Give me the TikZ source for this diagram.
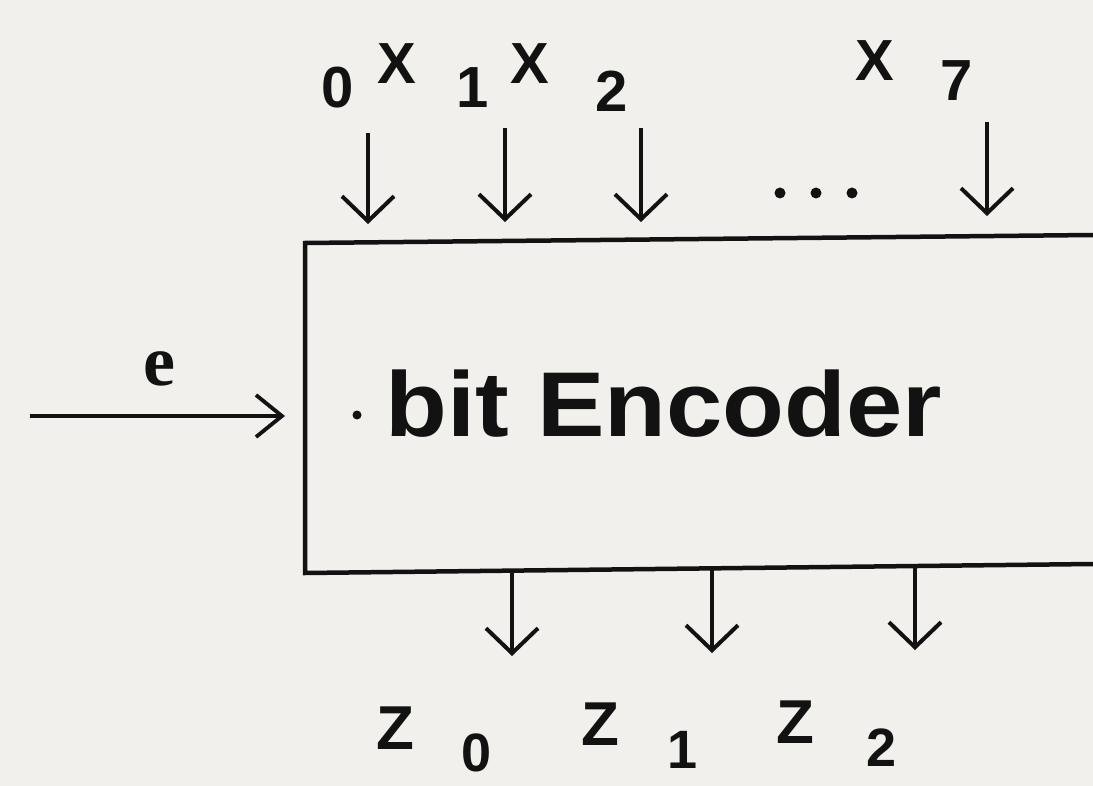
\documentclass[tikz,border=0pt]{standalone}
\usepackage{fontspec}
\setmainfont{Liberation Sans}
\newfontfamily\serifbold{Liberation Serif}
\usetikzlibrary{arrows.meta}
\definecolor{paper}{RGB}{241,240,237}
\definecolor{ink}{RGB}{18,18,18}
\begin{document}
\begin{tikzpicture}[x=1pt,y=-1pt,
  sig/.style={draw=ink, line width=4.2pt, -{Straight Barb[length=25pt,width=52pt,line width=4pt]}},
  topnum/.style={font=\fontsize{58}{60}\selectfont\bfseries, text=ink, inner sep=0pt},
  botz/.style={font=\fontsize{62}{64}\selectfont\bfseries, text=ink, inner sep=0pt},
  botnum/.style={font=\fontsize{54}{56}\selectfont\bfseries, text=ink, inner sep=0pt},
  dotmark/.style={fill=ink, circle, inner sep=0pt, minimum size=11pt}]
\fill[paper] (0,0) rectangle (1093,786);
\useasboundingbox (0,0) rectangle (1093,786);
% box (right side runs off the picture)
\coordinate (bTR) at (1093,235);
\coordinate (bTL) at (305,243);
\coordinate (bBL) at (305,573);
\coordinate (bBR) at (1093,564);
\draw[ink, line width=4.5pt] (bTR) -- (bTL) -- (bBL) -- (bBR);
% title
\node[anchor=base, text=ink, inner sep=0pt, font=\fontsize{92}{96}\selectfont\bfseries] (title) at (664,436) {\scalebox{1.1}[1]{bit Encoder}};
\node[dotmark, minimum size=9pt] (spot) at (357,415) {};
% input e
\coordinate (eS) at (30,416);
\coordinate (eT) at (285,416);
\draw[sig, -{Straight Barb[length=26pt,width=42pt,line width=3.8pt]}, line width=3.8pt] (eS) -- (eT);
\node[anchor=base, text=ink, inner sep=0pt, font=\serifbold\fontsize{72}{74}\selectfont\bfseries] (elab) at (159,385) {e};
% top inputs
\coordinate (t0s) at (368,133); \coordinate (t0e) at (368,224);
\coordinate (t1s) at (505,128); \coordinate (t1e) at (505,222);
\coordinate (t2s) at (641,128); \coordinate (t2e) at (641,222);
\coordinate (t7s) at (987,122); \coordinate (t7e) at (987,216);
\draw[sig] (t0s) -- (t0e);
\draw[sig] (t1s) -- (t1e);
\draw[sig] (t2s) -- (t2e);
\draw[sig] (t7s) -- (t7e);
\node[dotmark] (d1) at (780,193) {};
\node[dotmark] (d2) at (816,193) {};
\node[dotmark] (d3) at (852,193) {};
\node[topnum] (n0) at (338,88) {0};
\node[topnum] (x0) at (397,64) {X};
\node[topnum] (n1) at (473,88) {1};
\node[topnum] (x1) at (530,64) {X};
\node[topnum] (n2) at (612,91) {2};
\node[topnum] (x7) at (875,61) {X};
\node[topnum] (n7) at (957,81) {7};
% bottom outputs
\coordinate (z0s) at (512,571); \coordinate (z0e) at (512,656);
\coordinate (z1s) at (712,567); \coordinate (z1e) at (712,653);
\coordinate (z2s) at (915,565); \coordinate (z2e) at (915,650);
\draw[sig] (z0s) -- (z0e);
\draw[sig] (z1s) -- (z1e);
\draw[sig] (z2s) -- (z2e);
\node[botz] (zz0) at (395,728) {Z};
\node[botnum] (zn0) at (477,753) {0};
\node[botz] (zz1) at (600,724) {Z};
\node[botnum] (zn1) at (683,750) {1};
\node[botz] (zz2) at (795,722) {Z};
\node[botnum] (zn2) at (882,748) {2};
\end{tikzpicture}
\end{document}
